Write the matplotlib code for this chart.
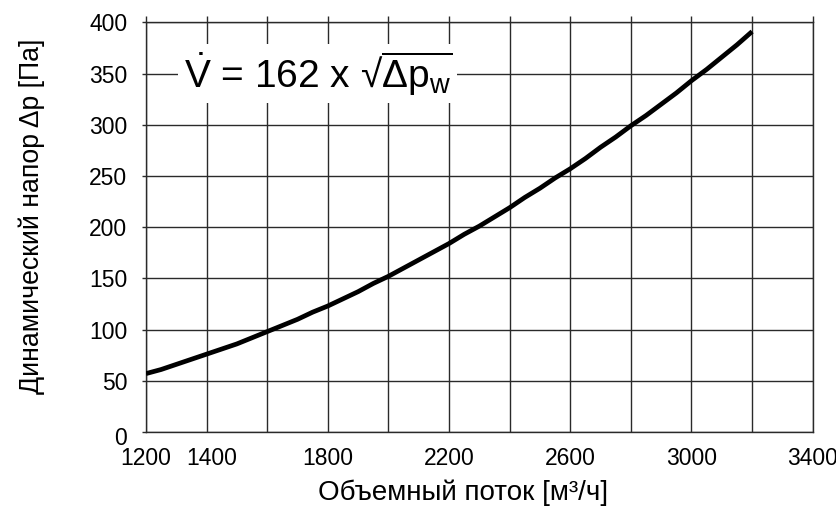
import matplotlib
matplotlib.use("Agg")
import matplotlib.pyplot as plt
import matplotlib.transforms as mtransforms

plt.rcParams['font.family'] = ['Liberation Sans', 'DejaVu Sans']
plt.rcParams['mathtext.fontset'] = 'custom'
plt.rcParams['mathtext.rm'] = 'Liberation Sans'
plt.rcParams['mathtext.it'] = 'Liberation Sans'

# points
flow = [1200, 1250, 1300, 1350, 1400, 1450, 1500, 1550, 1600, 1650, 1700,
        1750, 1800, 1850, 1900, 1950, 2000, 2050, 2100, 2150, 2200, 2250,
        2300, 2350, 2400, 2450, 2500, 2550, 2600, 2650, 2700, 2750, 2800,
        2850, 2900, 2950, 3000, 3050, 3100, 3150, 3200]
pressure = [57, 61, 66, 71, 76, 81, 86, 92, 98, 104, 110,
            117, 123, 130, 137, 145, 152, 160, 168, 176, 184, 193,
            201, 210, 219, 229, 238, 248, 257, 267, 278, 288, 299,
            309, 320, 331, 343, 354, 366, 378, 391]

xticks = list(range(1200, 3401, 200))
xlabels = ['1200', '1400', '', '1800', '', '2200', '', '2600', '', '3000', '', '3400']
yticks = list(range(0, 401, 50))

grid_col = '#2a2a2a'

fig = plt.figure(figsize=(8.37, 5.09), dpi=100)
ax = fig.add_axes([0.1744, 0.1513, 0.9710 - 0.1744, 0.9562 - 0.1513])

ax.plot(flow, pressure, color='black', lw=3.4, solid_capstyle='butt',
        solid_joinstyle='round', zorder=3)

ax.set_xlim(1200, 3400)
ax.set_ylim(0, 400)
ax.set_xticks(xticks)
ax.set_xticklabels(xlabels)
ax.set_yticks(yticks)
ax.grid(True, color=grid_col, lw=1.0)
ax.set_axisbelow(True)

for s in ax.spines.values():
    s.set_color(grid_col)
    s.set_linewidth(1.0)

ax.tick_params(axis='x', bottom=False, top=True, direction='out', length=4.3,
               width=1.0, color=grid_col, labelsize=16.5, pad=6.5)
ax.tick_params(axis='y', left=True, direction='out', length=3, width=1.0,
               color=grid_col, labelsize=16.5, pad=10.5)

# the "0" label sits a bit lower in the original, "1400" a bit right
lab0 = ax.get_yticklabels()[0]
lab0.set_transform(lab0.get_transform() +
                   mtransforms.ScaledTranslation(0, -4 / 100, fig.dpi_scale_trans))
lab1400 = ax.get_xticklabels()[1]
lab1400.set_transform(lab1400.get_transform() +
                      mtransforms.ScaledTranslation(5 / 100, 0, fig.dpi_scale_trans))

ax.set_xlabel('Объемный поток [м³/ч]', fontsize=20)
ax.xaxis.set_label_coords(0.4755, -0.117)
ax.set_ylabel('Динамический напор Δp [Па]', fontsize=19.2)
ax.yaxis.set_label_coords(-0.152, 0.527)

ax.text(1325, 350, r'$\dot{\mathrm{V}}$ = 162 x √$\overline{\Delta \mathrm{p}_\mathrm{w}}$',
        fontsize=28, ha='left', va='center', zorder=2,
        bbox=dict(facecolor='white', edgecolor='none', pad=4))

fig.savefig('out.png', dpi=100)
